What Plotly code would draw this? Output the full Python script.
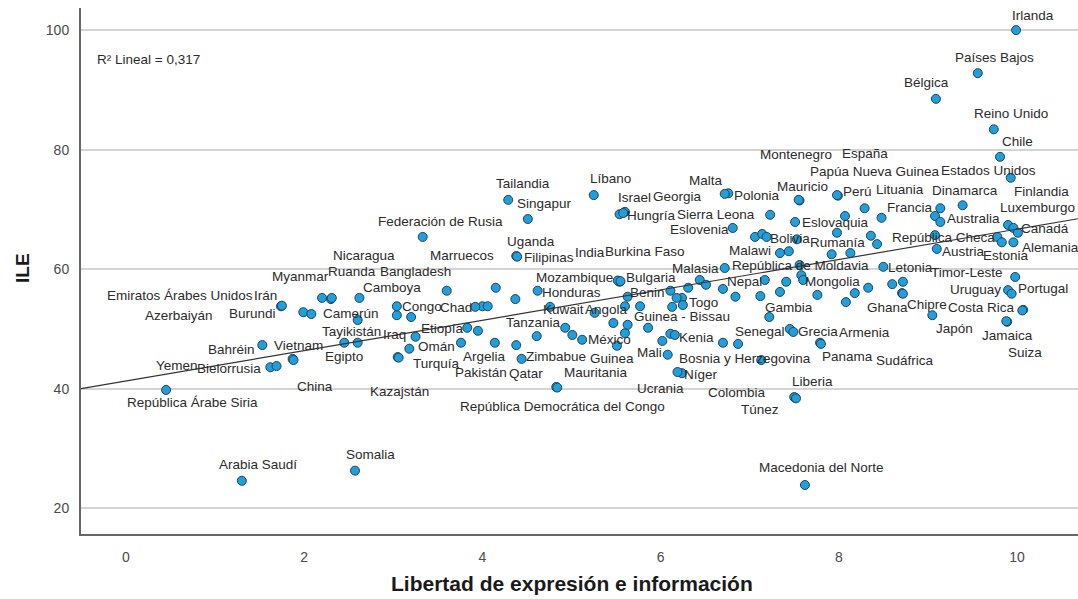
import numpy as np
import plotly.graph_objects as go

# ---------------- data ----------------
COUNTRIES = [
    "Irlanda", "Países Bajos", "Bélgica", "Reino Unido", "Chile", "Estados Unidos",
    "Papúa Nueva Guinea", "Lituania", "Montenegro", "España", "Mauricio", "Perú",
    "Dinamarca", "Francia", "Australia", "Finlandia", "Luxemburgo", "Canadá",
    "Alemania", "Estonia", "Austria", "República Checa", "Timor-Leste", "Uruguay",
    "Portugal", "Costa Rica", "Suiza", "Jamaica", "Japón", "Chipre", "Ghana",
    "Sudáfrica", "Letonia", "Polonia", "Malta", "Sierra Leona", "Eslovenia",
    "Eslovaquia", "Bolivia", "Rumanía", "Malawi", "Malasia", "República de Moldavia",
    "Nepal", "Mongolia", "Togo", "Gambia", "Senegal", "Grecia", "Armenia", "Panama",
    "Kenia", "Bosnia y Herzegovina", "Níger", "Ucrania", "Liberia", "Colombia",
    "Túnez", "Macedonia del Norte", "Líbano", "Israel", "Georgia", "Hungría",
    "Tailandia", "Singapur", "Federación de Rusia", "Uganda", "Filipinas", "India",
    "Burkina Faso", "Mozambique", "Bulgaria", "Honduras", "Benin", "Kuwait", "Angola",
    "Guinea - Bissau", "Tanzania", "México", "Etiopía", "Iraq", "Omán", "Turquía",
    "Kazajstán", "Argelia", "Pakistán", "Qatar", "Zimbabue", "Mauritania",
    "República Democrática del Congo", "Guinea", "Mali", "Congo", "Chad",
    "Bangladesh", "Marruecos", "Nicaragua", "Myanmar", "Ruanda", "Camboya",
    "Burundi", "Irán", "Emiratos Árabes Unidos", "Azerbaiyán", "Camerún",
    "Tayikistán", "Egipto", "Bahréin", "Vietnam", "China", "Yemen", "Bielorrusia",
    "República Árabe Siria", "Arabia Saudí", "Somalia",
]

LIBERTAD = [
    9.99, 9.56, 9.09, 9.74, 9.81, 9.93,
    8.29, 8.48, 7.56, 7.99, 7.55, 7.98,
    9.39, 9.14, 9.14, 9.90, 9.96, 10.01,
    9.96, 9.83, 9.10, 9.08, 9.98, 9.90,
    9.94, 10.07, 10.06, 9.89, 9.88, 9.05, 8.71,
    8.72, 8.50, 6.76, 6.72, 7.23, 6.81,
    7.51, 7.19, 7.53, 7.34, 6.72, 7.56,
    6.51, 7.60, 6.25, 7.22, 7.45, 7.49, 7.79, 7.80,
    6.16, 7.13, 6.24, 6.19, 7.51, 7.50,
    7.52, 7.62, 5.25, 5.54, 5.60, 5.58,
    4.29, 4.51, 3.33, 4.38, 4.39, 5.53,
    5.54, 5.52, 5.55, 4.62, 5.63, 4.76, 5.26,
    6.13, 4.93, 5.12, 3.83, 3.25, 3.18, 3.05,
    3.06, 3.76, 4.14, 4.38, 4.44, 4.83,
    4.84, 5.51, 6.08, 3.04, 3.92,
    3.60, 4.15, 2.30, 2.20, 2.31, 2.62,
    1.74, 1.75, 1.99, 2.08, 2.60,
    2.45, 2.60, 1.53, 1.87, 1.88, 1.62, 1.69,
    0.45, 1.30, 2.57,
]

ILE = [
    100.0, 92.8, 88.5, 83.4, 78.8, 75.3,
    70.2, 68.6, 71.5, 72.3, 71.6, 72.4,
    70.7, 70.2, 67.9, 67.4, 66.9, 66.1,
    64.5, 64.5, 63.4, 65.7, 58.7, 56.5,
    55.9, 53.2, 53.1, 51.2, 51.3, 52.3, 56.0,
    55.9, 60.4, 72.7, 72.6, 69.1, 66.9,
    67.9, 65.4, 65.0, 62.7, 60.2, 60.7,
    57.4, 58.2, 54.0, 52.0, 50.0, 49.5, 47.7, 47.5,
    49.0, 44.8, 42.6, 42.8, 38.5, 38.6,
    38.4, 23.9, 72.4, 69.2, 69.6, 69.4,
    71.6, 68.4, 65.4, 62.2, 62.1, 58.0,
    57.9, 58.1, 58.0, 56.4, 55.4, 53.7, 52.7,
    53.7, 50.2, 48.2, 50.2, 48.7, 46.7, 45.3,
    45.2, 47.7, 47.7, 47.3, 45.0, 40.3,
    40.2, 47.2, 45.7, 53.8, 53.7,
    56.4, 56.9, 55.0, 55.2, 55.2, 55.2,
    53.8, 53.9, 52.8, 52.5, 51.5,
    47.7, 47.7, 47.3, 45.0, 44.8, 43.6, 43.8,
    39.8, 24.6, 26.3,
]

# cases whose labels are hidden in the chart
OTHER_X = [9.08, 9.78, 7.06, 7.14, 7.44, 7.92, 8.13, 8.07, 7.98, 8.36, 8.43, 7.58,
           6.44, 6.31, 6.70, 6.84, 7.12, 7.17, 7.34, 7.41, 7.76, 8.08, 8.18, 8.33,
           8.60, 8.72, 6.24, 6.70, 6.87, 5.86, 6.02, 6.11, 6.11, 6.18, 5.60, 5.77,
           5.01, 5.47, 5.60, 5.63, 3.95, 4.61, 3.04, 3.20, 4.00, 4.06, 4.37]
OTHER_Y = [68.9, 65.4, 65.4, 65.9, 63.0, 62.5, 62.7, 68.9, 66.1, 65.6, 64.2, 59.0,
           58.2, 56.9, 56.7, 55.4, 55.5, 58.2, 56.2, 57.9, 55.7, 54.5, 56.0, 56.9,
           57.5, 57.9, 55.2, 47.7, 47.5, 50.2, 48.0, 49.2, 56.4, 55.2, 53.8, 53.8,
           49.0, 51.0, 49.3, 50.7, 49.7, 48.8, 52.3, 52.0, 53.8, 53.8, 55.0]

# linear fit as drawn in the chart (R² Lineal = 0,317)
FIT_INTERCEPT = 41.3
FIT_SLOPE = 2.54

R2_TEXT = "R² Lineal = 0,317"
X_TITLE = "Libertad de expresión e información"
Y_TITLE = "ILE"
X_TICKS = [0, 2, 4, 6, 8, 10]
Y_TICKS = [20, 40, 60, 80, 100]

# ---------------- label placement (pixel offsets of label centre from point) ----------------
LABEL_OFFSETS = {
    "Irlanda": (17, -15), "Países Bajos": (17, -16), "Bélgica": (-9, -16),
    "Reino Unido": (17, -16), "Chile": (17, -15), "Estados Unidos": (-22, -7),
    "Papúa Nueva Guinea": (10, -37), "Lituania": (18, -28), "Montenegro": (-4, -46),
    "España": (27, -42), "Mauricio": (4, -13), "Perú": (21, -4),
    "Dinamarca": (2, -15), "Francia": (-30, -1), "Australia": (33, -3),
    "Finlandia": (33, -33), "Luxemburgo": (24, -20), "Canadá": (27, -4),
    "Alemania": (37, 5), "Estonia": (4, 13), "Austria": (27, 3),
    "República Checa": (8, 2), "Timor-Leste": (-48, -4), "Uruguay": (-33, -1),
    "Portugal": (31, -5), "Costa Rica": (-42, -2), "Suiza": (3, 42),
    "Jamaica": (0, 14), "Japón": (-52, 7), "Chipre": (-5, -11), "Ghana": (-15, 14),
    "Sudáfrica": (2, 67), "Letonia": (27, 1), "Polonia": (29, 2), "Malta": (-19, -13),
    "Sierra Leona": (-54, 0), "Eslovenia": (-33, 2), "Eslovaquia": (40, 1),
    "Bolivia": (23, 2), "Rumanía": (41, 3), "Malawi": (-30, -3), "Malasia": (-29, 0),
    "República de Moldavia": (1, 0), "Nepal": (38, -3), "Mongolia": (29, 2),
    "Togo": (21, -3), "Gambia": (20, -10), "Senegal": (-30, 3), "Grecia": (25, 0),
    "Armenia": (44, -10), "Panama": (27, 13), "Kenia": (22, 3),
    "Bosnia y Herzegovina": (-16, -2), "Níger": (19, 1), "Ucrania": (-17, 16),
    "Liberia": (17, -16), "Colombia": (-57, -5), "Túnez": (-36, 11),
    "Macedonia del Norte": (17, -17), "Líbano": (17, -17), "Israel": (15, -17),
    "Georgia": (53, -15), "Hungría": (28, 2), "Tailandia": (15, -16),
    "Singapur": (17, -16), "Federación de Rusia": (18, -15), "Uganda": (15, -15),
    "Filipinas": (32, 1), "India": (-29, -29), "Burkina Faso": (25, -30),
    "Mozambique": (-43, -3), "Bulgaria": (31, -4), "Honduras": (34, 2),
    "Benin": (20, -4), "Kuwait": (13, 3), "Angola": (12, -3), "Guinea - Bissau": (10, 10),
    "Tanzania": (-32, -5), "México": (27, 0), "Etiopía": (-25, 1), "Iraq": (-21, -2),
    "Omán": (27, -2), "Turquía": (39, 6), "Kazajstán": (1, 34), "Argelia": (23, 14),
    "Pakistán": (-14, 30), "Qatar": (10, 28), "Zimbabue": (34, -2),
    "Mauritania": (40, -14), "República Democrática del Congo": (5, 19),
    "Guinea": (-5, 13), "Mali": (-18, -2), "Congo": (25, 0), "Chad": (-19, 1),
    "Bangladesh": (-31, -19), "Marruecos": (-34, -32), "Nicaragua": (33, -44),
    "Myanmar": (-22, -21), "Ruanda": (20, -26), "Camboya": (33, -10),
    "Burundi": (-29, 7), "Irán": (-16, -10), "Emiratos Árabes Unidos": (-123, -17),
    "Azerbaiyán": (-132, 1), "Camerún": (-7, -7), "Tayikistán": (7, -11),
    "Egipto": (-14, 14), "Bahréin": (-31, 4), "Vietnam": (6, -13), "China": (21, 26),
    "Yemen": (-93, -2), "Bielorrusia": (-48, 2), "República Árabe Siria": (26, 13),
    "Arabia Saudí": (16, -16), "Somalia": (16, -16),
}

FONT = "Liberation Sans, Arial, sans-serif"
X_RANGE = [-0.505, 10.685]
Y_RANGE = [15.7, 103.7]

# ---------------- figure ----------------
line_x = np.array(X_RANGE)
line_y = FIT_INTERCEPT + FIT_SLOPE * line_x

fig = go.Figure()
marker = dict(size=9, color="#1fa0da", line=dict(color="#24415e", width=1))
fig.add_trace(go.Scatter(x=OTHER_X, y=OTHER_Y, mode="markers", marker=marker,
                         hoverinfo="skip", showlegend=False))
fig.add_trace(go.Scatter(x=LIBERTAD, y=ILE, mode="markers", marker=marker,
                         text=COUNTRIES, hoverinfo="text", showlegend=False))
fig.add_trace(go.Scatter(x=line_x, y=line_y, mode="lines",
                         line=dict(color="#333333", width=1.2),
                         hoverinfo="skip", showlegend=False))

annotations = []
for name, xv, yv in zip(COUNTRIES, LIBERTAD, ILE):
    dx, dy = LABEL_OFFSETS.get(name, (0, -14))
    annotations.append(dict(x=xv, y=yv, xref="x", yref="y", text=name,
                            showarrow=False, xshift=dx, yshift=-dy,
                            xanchor="center", yanchor="middle",
                            font=dict(family=FONT, size=13.5, color="#2b2b2b")))

annotations.append(dict(x=0, y=1, xref="paper", yref="paper", text=R2_TEXT,
                        showarrow=False, xanchor="left", yanchor="middle",
                        xshift=14, yshift=-51,
                        font=dict(family=FONT, size=13.5, color="#2b2b2b")))
annotations.append(dict(x=0.5, y=0, xref="paper", yref="paper",
                        text="<b>" + X_TITLE + "</b>",
                        showarrow=False, xanchor="center", yanchor="middle",
                        xshift=-8, yshift=-49,
                        font=dict(family=FONT, size=21, color="#1a1a1a")))
annotations.append(dict(x=0, y=0.5, xref="paper", yref="paper",
                        text="<b>" + Y_TITLE + "</b>",
                        showarrow=False, xanchor="center", yanchor="middle",
                        xshift=-59, yshift=3, textangle=-90,
                        font=dict(family=FONT, size=19, color="#1a1a1a")))

fig.update_layout(
    width=1078, height=599,
    margin=dict(l=81, r=0, t=8, b=65),
    paper_bgcolor="white", plot_bgcolor="white",
    annotations=annotations,
    showlegend=False,
    xaxis=dict(range=X_RANGE, tickvals=X_TICKS, ticktext=[str(v) for v in X_TICKS],
               showgrid=False, zeroline=False, showline=True, linecolor="#666666",
               linewidth=2, ticks="", ticklabelstandoff=9,
               tickfont=dict(family=FONT, size=14, color="#4a4a4a")),
    yaxis=dict(range=Y_RANGE, tickvals=Y_TICKS, ticktext=[str(v) for v in Y_TICKS],
               showgrid=True, gridcolor="#d4d4d4", gridwidth=1.5, zeroline=False,
               showline=True, linecolor="#666666", linewidth=2, ticks="",
               ticklabelstandoff=7,
               tickfont=dict(family=FONT, size=14, color="#4a4a4a")),
)

fig.write_html("out.html",
               config={"displayModeBar": False},
               post_script="document.body.style.margin='0';"
                           "document.body.style.overflow='hidden';")
